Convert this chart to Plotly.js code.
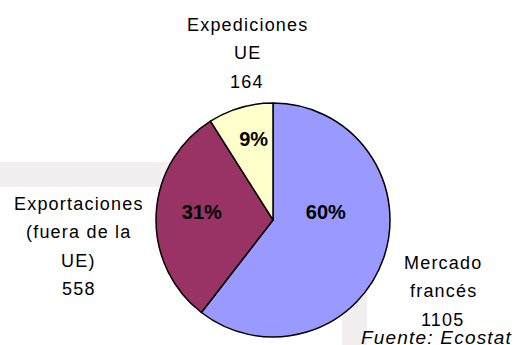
<!DOCTYPE html>
<html>
<head>
<meta charset="utf-8">
<script src="https://cdn.plot.ly/plotly-3.0.1.min.js"></script>
<style>
html, body { margin: 0; padding: 0; background: #fff; }
#chart { width: 516px; height: 345px; }
.annotation-text { letter-spacing: 1.2px; }
.annotation .pct { letter-spacing: 0; }
</style>
</head>
<body>
<div id="chart"></div>
<script>
const categories = ["Mercado francés", "Exportaciones (fuera de la UE)", "Expediciones UE"];
const labelLines = [["Mercado", "francés"], ["Exportaciones", "(fuera de la", "UE)"], ["Expediciones", "UE"]];
const values = [1105, 558, 164];
const colors = ["#9999FF", "#993366", "#FFFFCC"];
const sourceNote = "Fuente: Ecostat";

// label anchor positions (paper coords, centre of first line) and line pitch
const labelAnchors = [[0.859, 0.238], [0.153, 0.409], [0.479, 0.928]];
const pctAnchors = [[0.632, 0.3855], [0.3915, 0.3855], [0.4922, 0.597]];
const linePitch = 28.5 / 345;

const fam = "Liberation Sans, Arial, sans-serif";
const textFont = { family: fam, size: 18, color: "#000" };

const total = values.reduce((a, b) => a + b, 0);
const annotations = [];
labelLines.forEach((lines, i) => {
  const all = lines.concat([String(values[i])]);
  all.forEach((ln, k) => {
    annotations.push({
      xref: "paper", yref: "paper",
      x: labelAnchors[i][0], y: labelAnchors[i][1] - k * linePitch,
      xanchor: "center", yanchor: "middle",
      text: ln, showarrow: false, font: textFont
    });
  });
  annotations.push({
    xref: "paper", yref: "paper",
    x: pctAnchors[i][0], y: pctAnchors[i][1],
    xanchor: "center", yanchor: "middle", showarrow: false,
    text: "<b>" + Math.round(values[i] / total * 100) + "%</b>",
    font: { family: fam, size: 20, color: "#000" }
  });
});
annotations.push({
  xref: "paper", yref: "paper", x: 0.996, y: 0.023,
  xanchor: "right", yanchor: "middle", showarrow: false,
  text: "<i>" + sourceNote + "</i>",
  font: { family: fam, size: 19, color: "#000" }
});

const trace = {
  type: "pie",
  labels: categories,
  values: values,
  sort: false,
  direction: "clockwise",
  rotation: 0,
  marker: { colors: colors, line: { color: "#000", width: 1.5 } },
  textinfo: "none",
  hoverinfo: "none",
  showlegend: false,
  domain: { x: [156 / 516, 390 / 516], y: [1 - 337 / 345, 1 - 103 / 345] }
};

const layout = {
  width: 516, height: 345,
  margin: { l: 0, r: 0, t: 0, b: 0 },
  paper_bgcolor: "#fff",
  showlegend: false,
  annotations: annotations,
  shapes: [
    { type: "rect", xref: "paper", yref: "paper", layer: "below",
      x0: 0, x1: 367 / 516, y0: 1 - 187 / 345, y1: 1 - 162 / 345,
      fillcolor: "#F1EFEF", line: { width: 0 } },
    { type: "rect", xref: "paper", yref: "paper", layer: "below",
      x0: 342 / 516, x1: 367 / 516, y0: 0, y1: 1 - 162 / 345,
      fillcolor: "#F1EFEF", line: { width: 0 } }
  ]
};

Plotly.newPlot("chart", [trace], layout, { staticPlot: true, displayModeBar: false }).then(() => {
  document.querySelectorAll(".annotation-text").forEach(t => {
    if (/%$/.test(t.textContent)) t.style.letterSpacing = "0px";
  });
});
</script>
</body>
</html>
